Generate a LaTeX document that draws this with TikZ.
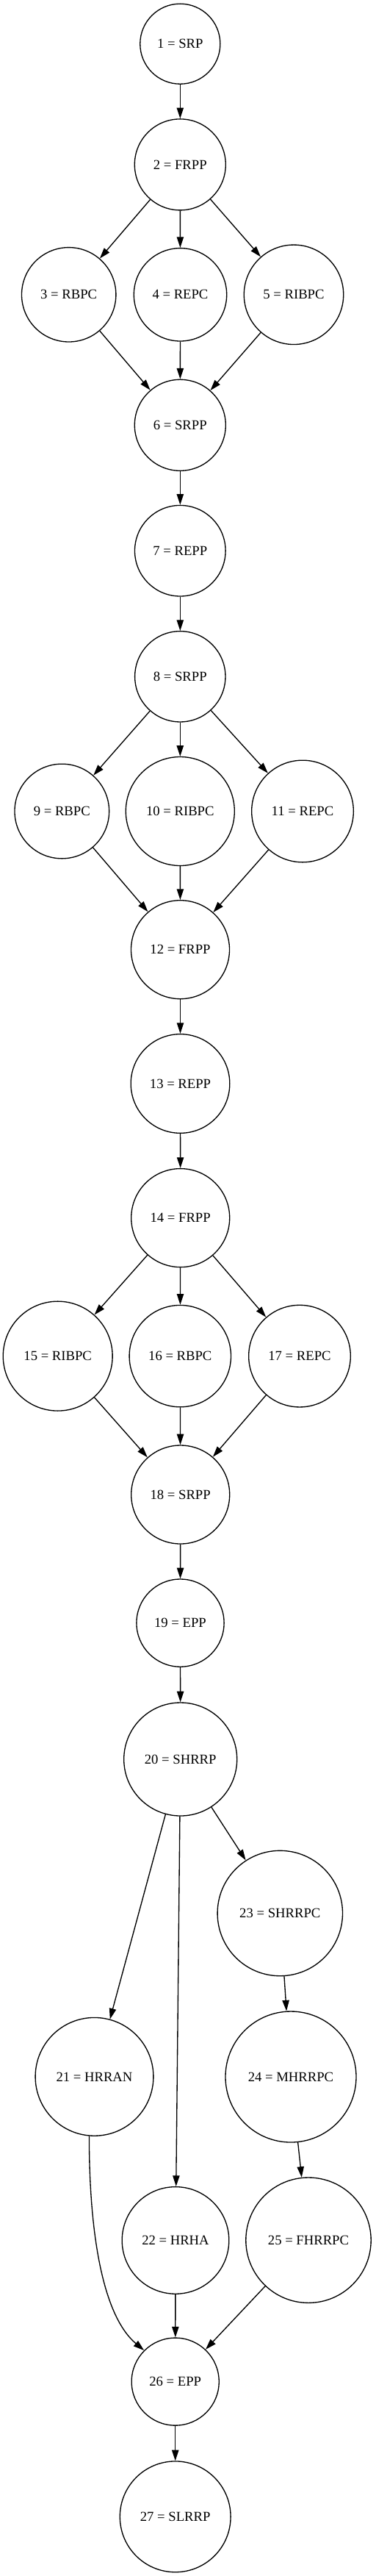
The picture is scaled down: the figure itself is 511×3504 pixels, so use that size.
\documentclass[tikz,border=0pt]{standalone}
\usepackage{fontspec}
\setmainfont{Liberation Serif}
\usetikzlibrary{arrows.meta}

\begin{document}
\begin{tikzpicture}[x=0.75pt, y=-0.75pt,
  st/.style={draw, circle, inner sep=0pt, line width=1pt, font=\fontsize{14}{16}\selectfont},
  arr/.style={line width=1pt, -{Triangle[length=11pt,width=7pt]}}]
\useasboundingbox (0,0) rectangle (511,3504);

\node[st,minimum size=81.8pt] (n1) at (245.3,59.7) {1 = SRP};
\node[st,minimum size=93pt] (n2) at (245.3,223.9) {2 = FRPP};
\path[draw,arr] (n1) -- (n2);

\node[st,minimum size=96.3pt] (n3) at (93.7,400.8) {3 = RBPC};
\node[st,minimum size=94.8pt] (n4) at (245.5,400.8) {4 = REPC};
\node[st,minimum size=101.6pt] (n5) at (400,400.8) {5 = RIBPC};
\path[draw,arr] (n2) -- (n3);
\path[draw,arr] (n2) -- (n4);
\path[draw,arr] (n2) -- (n5);

\node[st,minimum size=93pt] (n6) at (245.3,578.3) {6 = SRPP};
\path[draw,arr] (n3) -- (n6);
\path[draw,arr] (n4) -- (n6);
\path[draw,arr] (n5) -- (n6);

\node[st,minimum size=92.7pt] (n7) at (245.3,749.2) {7 = REPP};
\path[draw,arr] (n6) -- (n7);
\node[st,minimum size=92.5pt] (n8) at (245.3,920.3) {8 = SRPP};
\path[draw,arr] (n7) -- (n8);

\node[st,minimum size=96.5pt] (n9) at (84.3,1103.5) {9 = RBPC};
\node[st,minimum size=111pt] (n10) at (245.3,1103.5) {10 = RIBPC};
\node[st,minimum size=104pt] (n11) at (412,1103.5) {11 = REPC};
\path[draw,arr] (n8) -- (n9);
\path[draw,arr] (n8) -- (n10);
\path[draw,arr] (n8) -- (n11);

\node[st,minimum size=100.5pt] (n12) at (245.5,1291.7) {12 = FRPP};
\path[draw,arr] (n9) -- (n12);
\path[draw,arr] (n10) -- (n12);
\path[draw,arr] (n11) -- (n12);

\node[st,minimum size=101pt] (n13) at (245.5,1474) {13 = REPP};
\path[draw,arr] (n12) -- (n13);
\node[st,minimum size=100.5pt] (n14) at (245.7,1656.6) {14 = FRPP};
\path[draw,arr] (n13) -- (n14);

\node[st,minimum size=111.7pt] (n15) at (78.7,1844.6) {15 = RIBPC};
\node[st,minimum size=103.8pt] (n16) at (245.3,1844.6) {16 = RBPC};
\node[st,minimum size=104pt] (n17) at (408,1844.6) {17 = REPC};
\path[draw,arr] (n14) -- (n15);
\path[draw,arr] (n14) -- (n16);
\path[draw,arr] (n14) -- (n17);

\node[st,minimum size=100.5pt] (n18) at (245.7,2033) {18 = SRPP};
\path[draw,arr] (n15) -- (n18);
\path[draw,arr] (n16) -- (n18);
\path[draw,arr] (n17) -- (n18);

\node[st,minimum size=89.4pt] (n19) at (245.5,2207.6) {19 = EPP};
\path[draw,arr] (n18) -- (n19);
\node[st,minimum size=115.5pt] (n20) at (245.7,2393) {20 = SHRRP};
\path[draw,arr] (n19) -- (n20);

\node[st,minimum size=127.8pt] (n23) at (381.3,2602.5) {23 = SHRRPC};
\node[st,minimum size=120.6pt] (n21) at (128.5,2824.8) {21 = HRRAN};
\node[st,minimum size=133.5pt] (n24) at (396,2825) {24 = MHRRPC};
\node[st,minimum size=109.2pt] (n22) at (239,3047.4) {22 = HRHA};
\node[st,minimum size=127.8pt] (n25) at (420,3047.2) {25 = FHRRPC};
\path[draw,arr] (n20) -- (n21);
\path[draw,arr] (n20) -- (n22);
\path[draw,arr] (n20) -- (n23);
\path[draw,arr] (n23) -- (n24);
\path[draw,arr] (n24) -- (n25);

\node[st,minimum size=89.3pt] (n26) at (238.7,3239.6) {26 = EPP};
\path[draw,arr] (n21.265) .. controls +(0,135) and +(-55.7,-46.7) .. (n26.135);
\path[draw,arr] (n22) -- (n26);
\path[draw,arr] (n25) -- (n26);

\node[st,minimum size=113.1pt] (n27) at (238.7,3423.3) {27 = SLRRP};
\path[draw,arr] (n26) -- (n27);
\end{tikzpicture}
\end{document}
